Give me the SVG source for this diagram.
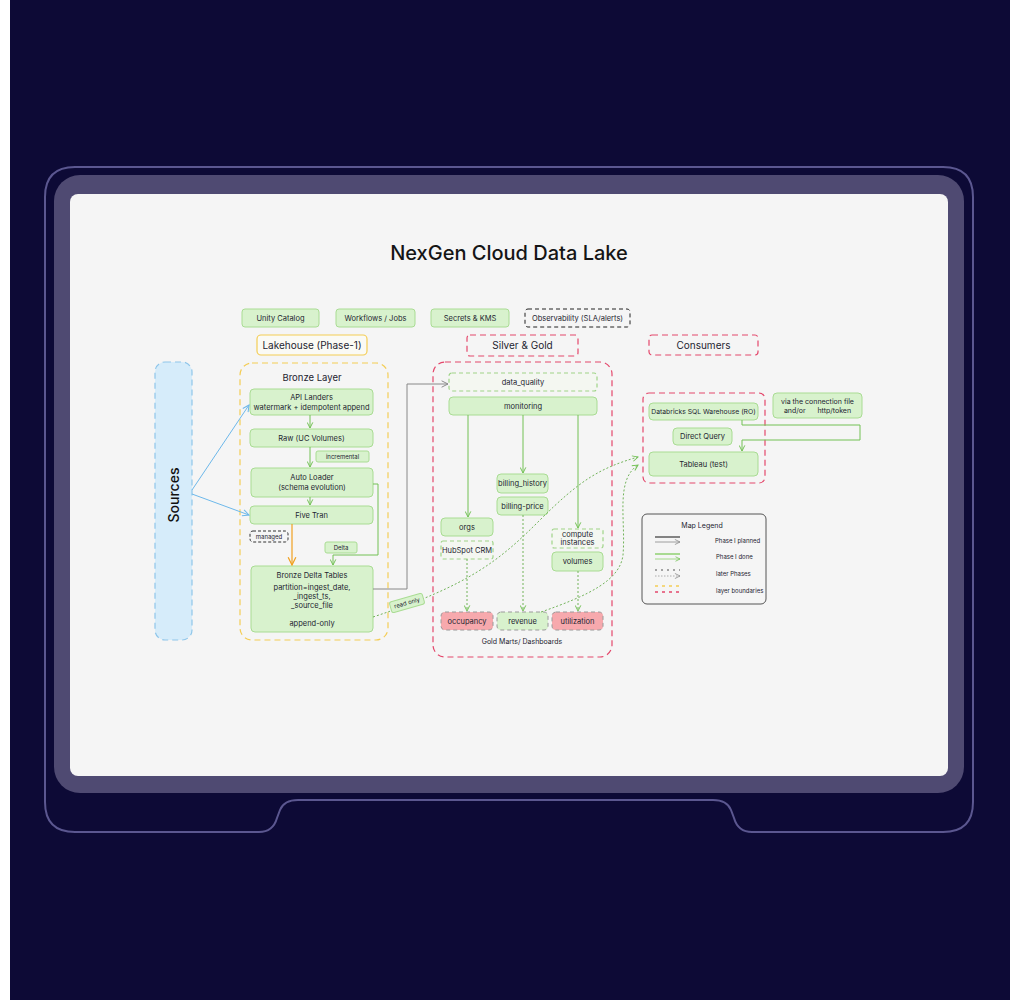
<svg xmlns="http://www.w3.org/2000/svg" width="1010" height="1000" viewBox="0 0 1010 1000">
<style>
text{font-family:Inter,"Liberation Sans",sans-serif;fill:#1d2430;text-anchor:middle}
.g{fill:#d8f2cd;stroke:#a9dc93;stroke-width:1}
.gd{fill:#f4f7f1;stroke:#9fd488;stroke-width:1.2;stroke-dasharray:4 3}
.pk{fill:#f7a9ad;stroke:#9a9a9a;stroke-width:1;stroke-dasharray:4 3}
.rv{fill:#d8f2cd;stroke:#9a9a9a;stroke-width:1;stroke-dasharray:4 3}
.red{fill:none;stroke:#e4486c;stroke-width:1.2;stroke-dasharray:6 4}
.yel{fill:none;stroke:#f4cd55;stroke-width:1.2;stroke-dasharray:6 4}
.s7{font-size:7.5px}
.s6{font-size:6px}
.lg{font-size:6px;text-anchor:start}
.ln{fill:none;stroke:#72c154;stroke-width:1}
.dot{fill:none;stroke:#72b35a;stroke-width:1;stroke-dasharray:2 2}
</style>
<defs>
<marker id="ag" viewBox="0 0 10 10" refX="9" refY="5" markerWidth="7" markerHeight="7" orient="auto"><path d="M1,1 L9,5 L1,9" fill="none" stroke="#72c154" stroke-width="1.4"/></marker>
<marker id="agr" viewBox="0 0 10 10" refX="9" refY="5" markerWidth="8" markerHeight="8" orient="auto"><path d="M1,1 L9,5 L1,9" fill="none" stroke="#888" stroke-width="1.2"/></marker>
<marker id="ab" viewBox="0 0 10 10" refX="9" refY="5" markerWidth="8" markerHeight="8" orient="auto"><path d="M1,1 L9,5 L1,9" fill="none" stroke="#6db8ea" stroke-width="1.3"/></marker>
<marker id="ao" viewBox="0 0 10 10" refX="9" refY="5" markerWidth="8" markerHeight="8" orient="auto"><path d="M1,1 L9,5 L1,9" fill="none" stroke="#f0a020" stroke-width="1.3"/></marker>
</defs>
<rect x="0" y="0" width="1010" height="1000" fill="#ffffff"/>
<rect x="10" y="0" width="1000" height="1000" fill="#0d0a36"/>
<path d="M75,167 H943 Q973,167 973,197 V802 Q973,832 943,832 H752 Q738,832 734,818 L731,810 Q727,800 713,800 H298 Q284,800 280,810 L277,818 Q273,832 259,832 H75 Q45,832 45,802 V197 Q45,167 75,167 Z" fill="none" stroke="#5b5790" stroke-width="2"/>
<rect x="54" y="175" width="910" height="618" rx="26" fill="#4f4a72"/>
<rect x="70" y="194" width="878" height="582" rx="8" fill="#f5f5f5"/>

<text x="509" y="260" style="font-size:20px;font-weight:500;fill:#151515">NexGen Cloud Data Lake</text>

<g id="unity"><rect class="g" x="242" y="309" width="77" height="18" rx="3"/><text class="s7" x="280.5" y="321">Unity Catalog</text></g>
<g id="workflows"><rect class="g" x="336" y="309" width="79" height="18" rx="3"/><text class="s7" x="375.5" y="321">Workflows / Jobs</text></g>
<g id="secrets"><rect class="g" x="431" y="309" width="78" height="18" rx="3"/><text class="s7" x="470" y="321">Secrets &amp; KMS</text></g>
<g id="observability"><rect x="525" y="309" width="105" height="18" rx="3" fill="#f5f5f5" stroke="#222" stroke-width="1" stroke-dasharray="4 3"/><text class="s7" x="577.5" y="321">Observability (SLA/alerts)</text></g>

<g id="lakehouse"><rect x="257" y="335" width="110" height="20" rx="4" fill="#fafaf5" stroke="#f4cd55" stroke-width="1.2"/><text x="312" y="349" style="font-size:10px">Lakehouse (Phase-1)</text></g>
<g id="silvergold-label"><rect class="red" x="467" y="335" width="111" height="21" rx="3"/><text x="522.5" y="349" style="font-size:10px">Silver &amp; Gold</text></g>
<g id="consumers-label"><rect class="red" x="649" y="335" width="109" height="20" rx="3"/><text x="703.5" y="349" style="font-size:10px">Consumers</text></g>

<g id="sources"><rect x="155" y="362" width="37" height="278" rx="10" fill="#d6ecfa" stroke="#8fc6ea" stroke-width="1.2" stroke-dasharray="6 4"/><text x="0" y="0" transform="translate(179,495) rotate(-90)" style="font-size:14px;font-weight:500;fill:#111">Sources</text></g>

<g id="bronze-layer"><rect class="yel" x="240" y="363" width="148" height="277" rx="12"/><text x="312" y="381" style="font-size:9.5px">Bronze Layer</text></g>

<g id="api-landers"><rect class="g" x="250" y="389" width="123" height="26" rx="4"/><text class="s7" x="311.5" y="400">API Landers</text><text class="s7" x="311.5" y="410">watermark + idempotent append</text></g>
<g id="raw"><rect class="g" x="250" y="429" width="123" height="18" rx="4"/><text class="s7" x="311.5" y="441">Raw (UC Volumes)</text></g>
<g id="incremental"><rect class="g" x="316" y="451" width="53" height="11" rx="2"/><text class="s6" x="342.5" y="459">incremental</text></g>
<g id="auto-loader"><rect class="g" x="251" y="468" width="122" height="29" rx="4"/><text class="s7" x="312" y="480">Auto Loader</text><text class="s7" x="312" y="490">(schema evolution)</text></g>
<g id="five-tran"><rect class="g" x="250" y="506" width="123" height="18" rx="4"/><text class="s7" x="311.5" y="518">Five Tran</text></g>
<g id="managed"><rect x="250" y="531" width="38" height="11" rx="3" fill="#f5f5f5" stroke="#333" stroke-width="1" stroke-dasharray="3 2"/><text class="s6" x="269" y="539">managed</text></g>
<g id="delta"><rect class="g" x="325" y="542" width="32" height="11" rx="2"/><text class="s6" x="341" y="550">Delta</text></g>
<g id="bronze-delta"><rect class="g" x="251" y="566" width="122" height="66" rx="4"/><text class="s7" x="312" y="578">Bronze Delta Tables</text><text class="s7" x="312" y="590">partition=ingest_date,</text><text class="s7" x="312" y="599">_ingest_ts,</text><text class="s7" x="312" y="608">_source_file</text><text class="s7" x="312" y="626">append-only</text></g>

<g id="silver-gold"><rect class="red" x="433" y="362" width="179" height="295" rx="12"/><text x="522" y="644" style="font-size:7px">Gold Marts/ Dashboards</text></g>
<g id="data-quality"><rect class="gd" x="449" y="373" width="148" height="18" rx="3"/><text class="s7" x="523" y="385">data_quality</text></g>
<g id="monitoring"><rect class="g" x="449" y="397" width="148" height="18" rx="4"/><text class="s7" x="523" y="409">monitoring</text></g>
<g id="billing-history"><rect class="g" x="497" y="474" width="51" height="19" rx="4"/><text class="s7" x="522.5" y="486">billing_history</text></g>
<g id="billing-price"><rect class="g" x="497" y="497" width="51" height="18" rx="4"/><text class="s7" x="522.5" y="509">billing-price</text></g>
<g id="orgs"><rect class="g" x="441" y="518" width="52" height="18" rx="4"/><text class="s7" x="467" y="530">orgs</text></g>
<g id="hubspot"><rect class="gd" x="441" y="541" width="52" height="18" rx="2"/><text class="s7" x="467" y="553">HubSpot CRM</text></g>
<g id="compute"><rect class="gd" x="552" y="529" width="51" height="19" rx="2"/><text class="s7" x="577.5" y="537">compute</text><text class="s7" x="577.5" y="545">instances</text></g>
<g id="volumes"><rect class="g" x="552" y="552" width="51" height="19" rx="4"/><text class="s7" x="577.5" y="564">volumes</text></g>
<g id="occupancy"><rect class="pk" x="441" y="612" width="52" height="18" rx="4"/><text class="s7" x="467" y="624">occupancy</text></g>
<g id="revenue"><rect class="rv" x="497" y="612" width="51" height="18" rx="4"/><text class="s7" x="522.5" y="624">revenue</text></g>
<g id="utilization"><rect class="pk" x="552" y="612" width="51" height="18" rx="4"/><text class="s7" x="577.5" y="624">utilization</text></g>

<g id="consumers"><rect class="red" x="643" y="393" width="122" height="90" rx="6"/></g>
<g id="databricks"><rect class="g" x="649" y="403" width="109" height="17" rx="4"/><text x="703.5" y="414" style="font-size:6.8px">Databricks SQL Warehouse (RO)</text></g>
<g id="direct-query"><rect class="g" x="673" y="428" width="59" height="17" rx="4"/><text class="s7" x="702.5" y="439">Direct Query</text></g>
<g id="tableau"><rect class="g" x="649" y="452" width="109" height="24" rx="4"/><text class="s7" x="703.5" y="467">Tableau (test)</text></g>
<g id="connection-note"><rect class="g" x="773" y="393" width="89" height="25" rx="4"/><text x="817.5" y="404" style="font-size:7px">via the connection file</text><text x="817.5" y="413" style="font-size:7px" xml:space="preserve">and/or      http/token</text></g>

<g id="legend"><rect x="642" y="514" width="124" height="90" rx="5" fill="#f5f5f5" stroke="#555" stroke-width="1"/>
<text x="702" y="528" style="font-size:7px">Map Legend</text>
<line x1="655" y1="537" x2="680" y2="537" stroke="#777" stroke-width="1.8"/>
<line x1="655" y1="542" x2="680" y2="542" stroke="#888" stroke-width="0.8" marker-end="url(#agr)"/>
<text class="lg" x="715" y="543">Phase I planned</text>
<line x1="655" y1="554" x2="680" y2="554" stroke="#8fd070" stroke-width="1.5"/>
<line x1="655" y1="559" x2="680" y2="559" stroke="#8fd070" stroke-width="0.8" marker-end="url(#ag)"/>
<text class="lg" x="716" y="559">Phase I done</text>
<line x1="655" y1="570" x2="680" y2="570" stroke="#888" stroke-width="1.5" stroke-dasharray="2 4"/>
<line x1="655" y1="576" x2="680" y2="576" stroke="#999" stroke-width="0.8" stroke-dasharray="1.5 1.5" marker-end="url(#agr)"/>
<text class="lg" x="716" y="576">later Phases</text>
<line x1="655" y1="586" x2="680" y2="586" stroke="#f4cd55" stroke-width="1.5" stroke-dasharray="3 4"/>
<line x1="655" y1="592" x2="680" y2="592" stroke="#e4486c" stroke-width="1.5" stroke-dasharray="3 4"/>
<text class="lg" x="716" y="593">layer boundaries</text>
</g>

<g id="connectors">
<path d="M192,490 L249,405" fill="none" stroke="#6db8ea" stroke-width="1" marker-end="url(#ab)"/>
<path d="M192,494 L249,515" fill="none" stroke="#6db8ea" stroke-width="1" marker-end="url(#ab)"/>
<path class="ln" d="M310,415 V428" marker-end="url(#ag)"/>
<path class="ln" d="M310,447 V467" marker-end="url(#ag)"/>
<path class="ln" d="M310,497 V505" marker-end="url(#ag)"/>
<path class="ln" d="M373,484 H378 V555 H333 V565" marker-end="url(#ag)"/>
<path d="M292,524 V565" fill="none" stroke="#f0a020" stroke-width="1.2" marker-end="url(#ao)"/>
<path d="M373,589 H407 V384 H448" fill="none" stroke="#888" stroke-width="1" marker-end="url(#agr)"/>
<path class="ln" d="M468,415 V517" marker-end="url(#ag)"/>
<path class="ln" d="M523,415 V473" marker-end="url(#ag)"/>
<path class="ln" d="M578,415 V528" marker-end="url(#ag)"/>
<path class="dot" d="M467,559 V611" marker-end="url(#ag)"/>
<path class="dot" d="M523,515 V611" marker-end="url(#ag)"/>
<path class="dot" d="M578,571 V611" marker-end="url(#ag)"/>
<path class="dot" d="M373,617 C470,585 500,560 540,520 C580,480 600,468 638,457" marker-end="url(#ag)"/>
<path class="dot" d="M541,612 C590,595 620,580 623,555 C626,520 615,480 638,465" marker-end="url(#ag)"/>
<path class="ln" d="M742,420 V425 H860 V440 H742 V451" stroke="#b8e0a5" marker-end="url(#ag)"/>
<g transform="translate(407,603) rotate(-16)"><rect class="g" x="-17" y="-5.5" width="34" height="11" rx="2"/><text class="s6" x="0" y="2">read only</text></g>
</g>
</svg>
